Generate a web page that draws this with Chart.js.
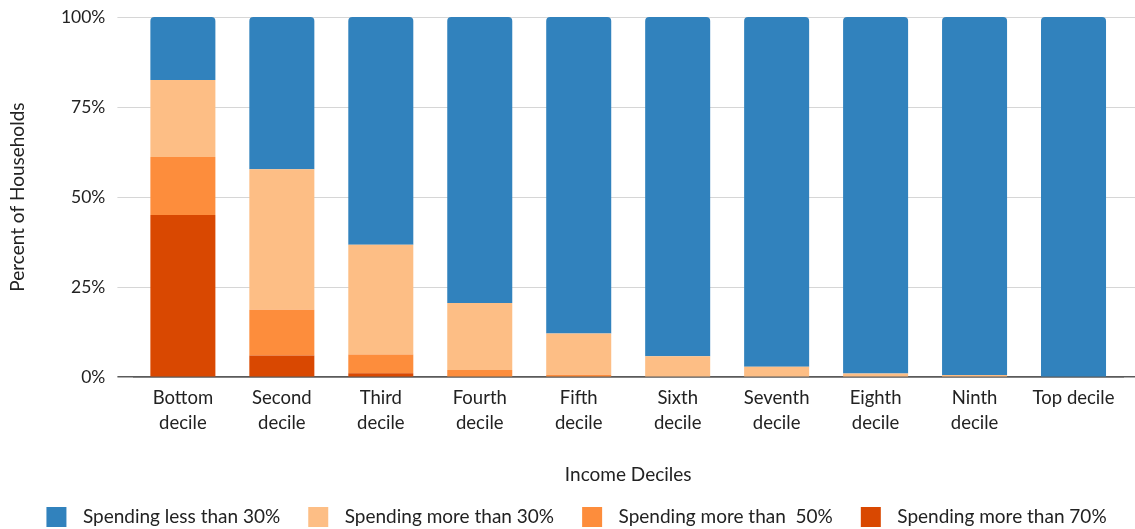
<!DOCTYPE html>
<html><head><meta charset="utf-8">
<script src="https://cdn.jsdelivr.net/npm/chart.js@4.4.1/dist/chart.umd.min.js"></script>
<style>html,body{margin:0;padding:0;background:#fff}#wrap{width:1135px;height:529px;position:relative}</style>
</head><body><div id="wrap"><canvas id="c"></canvas></div>
<script>
// ---- data (percent of households in each band, stacked bottom-up) ----
const categories = [["Bottom","decile"],["Second","decile"],["Third","decile"],["Fourth","decile"],["Fifth","decile"],["Sixth","decile"],["Seventh","decile"],["Eighth","decile"],["Ninth","decile"],"Top decile"];
const seriesNames = ["Spending more than 70%","Spending more than  50%","Spending more than 30%","Spending less than 30%"];
const more70 = [45.0, 6.0, 1.1, 0, 0, 0, 0, 0, 0, 0];
const more50 = [16.1, 12.75, 5.2, 2.0, 0.7, 0, 0, 0, 0, 0];
const more30 = [21.4, 39.0, 30.5, 18.6, 11.4, 5.8, 2.9, 1.0, 0.6, 0];
const less30 = [17.5, 42.25, 63.2, 79.4, 87.9, 94.2, 97.1, 99.0, 99.4, 100];
const yTicks = [0, 25, 50, 75, 100];
const xTitle = "Income Deciles";
const yTitle = "Percent of Households";

// ---- styles ----
const colors = ["#D94801", "#FD8D3C", "#FDBE85", "#3182BD"];
const FONT = "Lato, 'Open Sans', sans-serif";
const TEXT = "#222222";
const GRID = "#d6d6d6";
const AXIS = "#5a5a5a";

function makeSwatch(color) {
  const cv = document.createElement('canvas');
  cv.width = 45; cv.height = 20;
  const g = cv.getContext('2d');
  g.fillStyle = color;
  g.fillRect(18, 0, 20, 20);
  return cv;
}

const seriesValues = [more70, more50, more30, less30];
const datasets = seriesValues.map((vals, i) => ({
  label: seriesNames[i],
  data: vals,
  backgroundColor: colors[i],
  borderWidth: 0,
  borderRadius: i === 3 ? {topLeft: 4, topRight: 4, bottomLeft: 0, bottomRight: 0} : 0,
  borderSkipped: i === 3 ? 'start' : false,
  categoryPercentage: 1,
  barPercentage: 0.657
}));

const gridColor = ctx => (ctx.tick && ctx.tick.value === 0) ? AXIS : GRID;
const gridWidth = ctx => (ctx.tick && ctx.tick.value === 0) ? 1.5 : 1;

new Chart(document.getElementById('c'), {
  type: 'bar',
  data: { labels: categories, datasets },
  options: {
    responsive: true,
    maintainAspectRatio: false,
    devicePixelRatio: 1,
    animation: false,
    layout: { padding: { top: 17, bottom: -7.5, left: 0, right: 0 } },
    plugins: {
      tooltip: { enabled: false },
      legend: {
        position: 'bottom',
        reverse: true,
        labels: {
          usePointStyle: true,
          pointStyleWidth: 45,
          boxHeight: 20,
          padding: 10,
          color: TEXT,
          font: { family: FONT, size: 19 },
          generateLabels(chart) {
            const items = Chart.defaults.plugins.legend.labels.generateLabels(chart);
            items.forEach(it => { it.pointStyle = makeSwatch(it.fillStyle); });
            return items;
          }
        }
      }
    },
    scales: {
      x: {
        stacked: true,
        z: 1,
        grid: { display: false, drawTicks: false },
        border: { display: true, color: AXIS, width: 1.5 },
        ticks: { color: TEXT, font: { family: FONT, size: 18.5, lineHeight: '25px' }, padding: 8, maxRotation: 0, autoSkip: false },
        title: { display: true, text: xTitle, color: TEXT, font: { family: FONT, size: 19 }, padding: { top: 20.5, bottom: 11 } }
      },
      y: {
        stacked: true,
        min: yTicks[0],
        max: yTicks[yTicks.length - 1],
        afterBuildTicks(scale) { scale.ticks = yTicks.map(v => ({ value: v })); },
        grid: { color: gridColor, tickColor: gridColor, lineWidth: gridWidth, tickWidth: gridWidth, tickLength: 16, drawTicks: true },
        border: { display: false },
        ticks: { color: TEXT, font: { family: FONT, size: 17.5 }, padding: 12, callback: v => v + '%' },
        title: { display: true, text: yTitle, color: TEXT, font: { family: FONT, size: 19 }, padding: { top: 6, bottom: 0 } },
        afterFit(scale) { scale.width = 133.4; scale.paddingTop = 0; scale.paddingBottom = 0; }
      },
      y2: {
        position: 'right',
        min: yTicks[0],
        max: yTicks[yTicks.length - 1],
        afterBuildTicks(scale) { scale.ticks = yTicks.map(v => ({ value: v })); },
        grid: { drawOnChartArea: false, color: gridColor, tickColor: gridColor, lineWidth: gridWidth, tickWidth: gridWidth, tickLength: 12, drawTicks: true },
        border: { display: false },
        ticks: { display: false },
        afterFit(scale) { scale.width = 12; scale.paddingTop = 0; scale.paddingBottom = 0; }
      }
    }
  }
});
</script>
</body></html>
